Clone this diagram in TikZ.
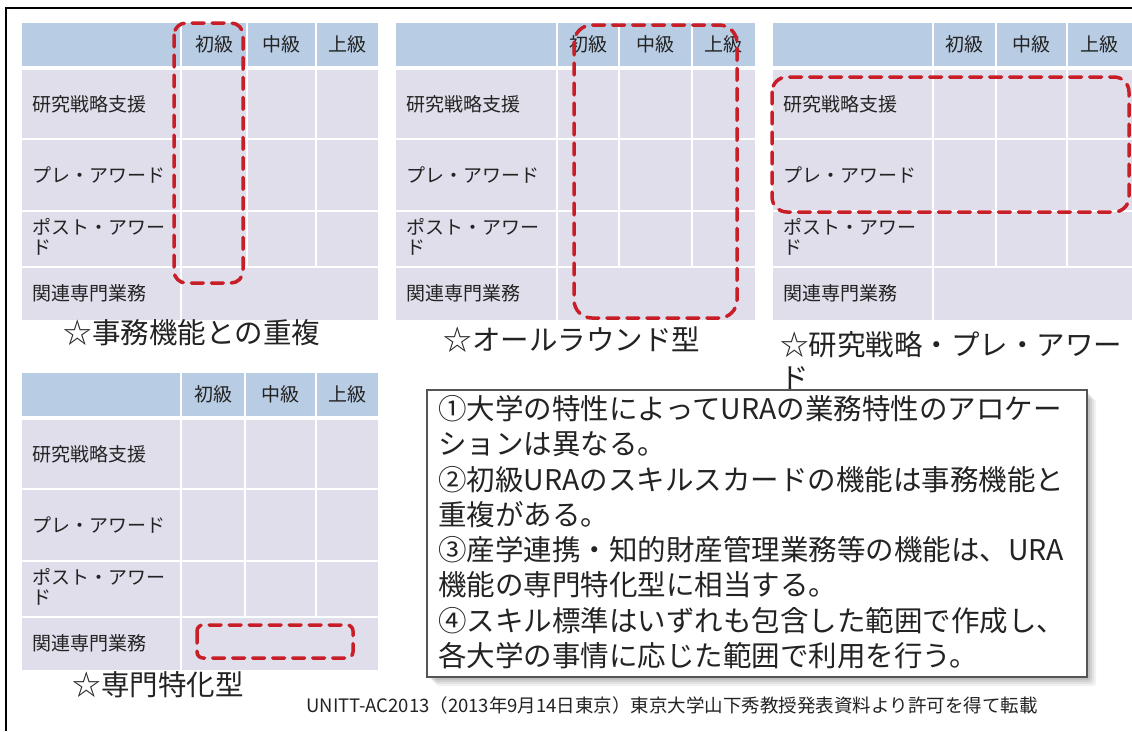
\documentclass[tikz,border=0pt]{standalone}
\usepackage{fontspec}
\setmainfont{Noto Sans CJK JP}
\definecolor{hdr}{RGB}{184,204,228}
\definecolor{bodyc}{RGB}{224,222,235}
\definecolor{redd}{RGB}{200,30,40}
\definecolor{txt}{RGB}{35,35,35}
\definecolor{boxline}{RGB}{85,85,85}
% #1 x0, #2 c1, #3 c2, #4 c3, #5 x4, #6 y0, #7 name prefix
\newcommand\uratable[7]{%
  \fill[hdr] ({#1},{#6}) rectangle ({#5},{#6+43});
  \fill[bodyc] ({#1},{#6+47}) rectangle ({#5},{#6+297});
  \draw[sep] ({#1},{#6+116}) -- ({#5},{#6+116});
  \draw[sep] ({#1},{#6+188}) -- ({#5},{#6+188});
  \draw[sep] ({#1},{#6+244}) -- ({#5},{#6+244});
  \draw[sep] ({#2},{#6}) -- ({#2},{#6+297});
  \draw[sep] ({#3},{#6}) -- ({#3},{#6+244});
  \draw[sep] ({#4},{#6}) -- ({#4},{#6+244});
  \node[hd] (#7h1) at ({(#2+#3)/2},{#6+21}) {初級};
  \node[hd] (#7h2) at ({(#3+#4)/2},{#6+21}) {中級};
  \node[hd] (#7h3) at ({(#4+#5)/2},{#6+21}) {上級};
  \node[lbl] (#7r1) at ({#1+10},{#6+81}) {研究戦略支援};
  \node[lbl] (#7r2) at ({#1+10},{#6+152}) {プレ・アワード};
  \node[lbl] (#7r3) at ({#1+10},{#6+214}) {ポスト・アワー\\ド};
  \node[lbl] (#7r4) at ({#1+10},{#6+270}) {関連専門業務};
}
\begin{document}
\begin{tikzpicture}[x=1pt,y=-1pt,
  hd/.style={font=\fontsize{19}{21}\selectfont, text=txt, inner sep=0},
  lbl/.style={font=\fontsize{19}{20}\selectfont, text=txt, inner sep=0, anchor=west, align=left},
  sep/.style={draw=white, line width=2},
  hl/.style={draw=redd, line width=3.5, dash pattern=on 12pt off 8pt, line cap=round},
  captext/.style={font=\fontsize{28.5}{33}\selectfont, text=txt, inner sep=0},
  bodytxt/.style={font=\fontsize{28.5}{35}\selectfont, text=txt, inner sep=0, anchor=base west},
]
\useasboundingbox (0,0) rectangle (1132,731);
\fill[white] (0,0) rectangle (1132,731);
\draw[line width=2] (6,731) -- (6,8) -- (1132,8);

% tables
\uratable{22}{181}{247}{316}{378}{23}{a}
\uratable{396}{557}{619}{692}{755}{23}{b}
\uratable{773}{933}{996}{1067}{1132}{23}{c}
\uratable{22}{181}{245}{316}{378}{373}{d}

% red dashed highlights
\draw[hl, rounded corners=12] (174,23) rectangle (243,283);
\draw[hl, rounded corners=18] (574,25) rectangle (737,318);
\draw[hl, rounded corners=15] (772,77) rectangle (1129,212);
\draw[hl, rounded corners=6] (197,625) rectangle (353,658);

% captions
\node[captext] (cap1) at (192,333) {☆事務機能との重複};
\node[captext] (cap2) at (572,340) {☆オールラウンド型};
\node[captext, anchor=west] (cap3a) at (780,345) {☆研究戦略・プレ・アワー};
\node[captext, anchor=west] (cap3b) at (780,378) {ド};
\node[captext] (cap4) at (158,685) {☆専門特化型};

% text box with soft shadow
\foreach \o/\a in {9/0.05,7/0.06,5/0.07,3/0.08}{
  \fill[black, opacity=\a, rounded corners=3] (427+\o,390+\o) rectangle (1087+\o,677+\o);
}
\node[draw=boxline, fill=white, line width=1.3, minimum width=660, minimum height=287, inner sep=0] (box) at (757,533.5) {};
\node[bodytxt] (t1) at (438,419) {①大学の特性によってURAの業務特性のアロケー};
\node[bodytxt] (t2) at (438,454) {ションは異なる。};
\node[bodytxt] (t3) at (438,490) {②初級URAのスキルスカードの機能は事務機能と};
\node[bodytxt] (t4) at (438,525) {重複がある。};
\node[bodytxt] (t5) at (438,560) {③産学連携・知的財産管理業務等の機能は、URA};
\node[bodytxt] (t6) at (438,595) {機能の専門特化型に相当する。};
\node[bodytxt] (t7) at (438,631) {④スキル標準はいずれも包含した範囲で作成し、};
\node[bodytxt] (t8) at (438,666) {各大学の事情に応じた範囲で利用を行う。};

% footer
\node[font=\fontsize{18.5}{20}\selectfont, text=txt, inner sep=0] (foot) at (672,705) {UNITT-AC2013（2013年9月14日東京）東京大学山下秀教授発表資料より許可を得て転載};
\end{tikzpicture}
\end{document}
